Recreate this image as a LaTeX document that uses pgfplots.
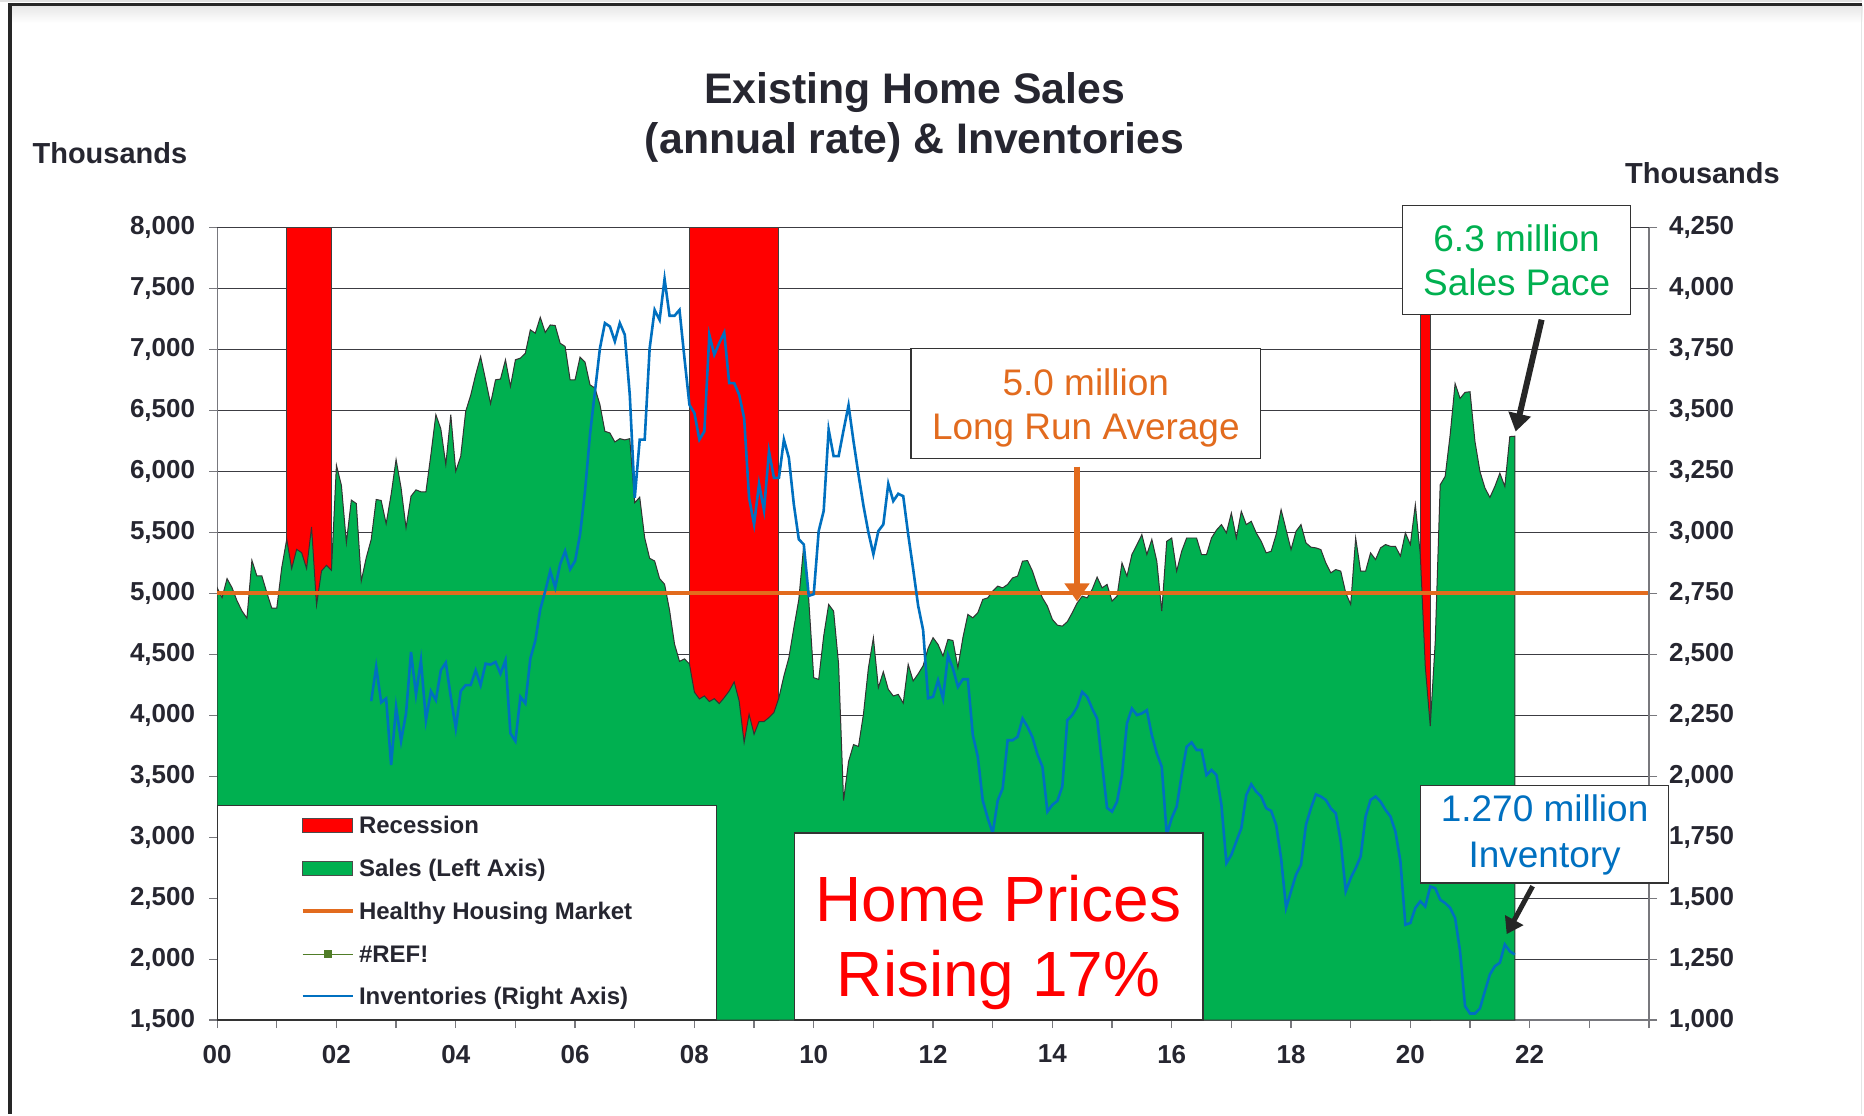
\documentclass[border=0pt]{standalone}
\usepackage{pgfplots}
\pgfplotsset{compat=1.18}
\usepackage{pgfplotstable}
\usepackage{fontspec}
\setmainfont{Liberation Sans}
\usetikzlibrary{arrows.meta}
\definecolor{xlgreen}{RGB}{0,176,80}
\definecolor{xlred}{RGB}{255,0,0}
\definecolor{xlorange}{RGB}{226,107,30}
\definecolor{xlblue}{RGB}{0,112,192}
\definecolor{txt}{RGB}{38,38,48}
\definecolor{gridc}{RGB}{60,60,66}
\definecolor{axc}{RGB}{120,120,125}
\definecolor{refgreen}{RGB}{80,125,40}

\pgfplotstableread[row sep=\\]{s\\
5048\\4966\\5122\\5048\\4940\\4857\\4797\\5272\\5144\\5144\\5007\\4879\\
4879\\5212\\5444\\5204\\5362\\5335\\5204\\5545\\4904\\5185\\5231\\5190\\
6052\\5888\\5417\\5766\\5738\\5103\\5294\\5444\\5771\\5763\\5572\\5812\\
6099\\5867\\5539\\5798\\5850\\5834\\5834\\6139\\6467\\6350\\6058\\6467\\
6003\\6126\\6494\\6625\\6794\\6944\\6753\\6557\\6753\\6759\\6917\\6699\\
6917\\6931\\6971\\7163\\7135\\7266\\7141\\7203\\7198\\7053\\7026\\6753\\
6753\\6939\\6898\\6712\\6685\\6549\\6330\\6317\\6243\\6270\\6260\\6270\\
5744\\5790\\5457\\5288\\5267\\5122\\5076\\4863\\4585\\4443\\4463\\4422\\
4190\\4135\\4159\\4113\\4137\\4096\\4145\\4200\\4274\\4118\\3777\\4009\\
3845\\3949\\3949\\3982\\4023\\4145\\4323\\4473\\4718\\4950\\5400\\4950\\
4309\\4295\\4650\\4910\\4855\\4420\\3300\\3620\\3760\\3745\\4010\\4390\\
4637\\4227\\4358\\4213\\4159\\4172\\4100\\4418\\4282\\4340\\4407\\4550\\
4637\\4582\\4487\\4623\\4614\\4391\\4637\\4828\\4800\\4842\\4951\\4964\\
5019\\5060\\5046\\5074\\5128\\5142\\5265\\5270\\5183\\5060\\4964\\4896\\
4787\\4740\\4732\\4768\\4842\\4923\\4978\\4964\\5033\\5134\\5046\\5074\\
4937\\4978\\5251\\5142\\5320\\5400\\5483\\5320\\5444\\5265\\4855\\5428\\
5455\\5183\\5346\\5455\\5455\\5455\\5319\\5319\\5455\\5520\\5565\\5497\\
5660\\5455\\5674\\5565\\5592\\5497\\5428\\5333\\5346\\5483\\5688\\5524\\
5360\\5510\\5565\\5415\\5380\\5374\\5360\\5250\\5169\\5196\\5183\\5005\\
4910\\5455\\5183\\5183\\5333\\5278\\5374\\5401\\5387\\5387\\5306\\5497\\
5401\\5729\\5319\\4400\\3912\\4600\\5892\\5960\\6300\\6723\\6600\\6650\\
6655\\6246\\6000\\5865\\5788\\5878\\5987\\5878\\6287\\6290\\
}\sales

\pgfplotstableread[row sep=\\]{v\\
2308\\2449\\2303\\2319\\2046\\
2285\\2144\\2258\\2510\\2335\\2476\\2230\\2349\\2312\\2435\\2466\\2326\\
2196\\2349\\2374\\2374\\2435\\2374\\2462\\2458\\2469\\2421\\2476\\2176\\
2144\\2326\\2299\\2483\\2556\\2685\\2760\\2842\\2774\\2870\\2924\\2849\\
2883\\2992\\3170\\3402\\3579\\3756\\3859\\3845\\3784\\3859\\3811\\3565\\
3142\\3381\\3381\\3756\\3913\\3872\\4040\\3889\\3889\\3913\\3715\\3524\\
3490\\3381\\3415\\3811\\3729\\3777\\3820\\3613\\3613\\3565\\3470\\3142\\
3033\\3200\\3091\\3333\\3224\\3224\\3381\\3306\\3115\\2972\\2951\\2740\\
2747\\3006\\3088\\3422\\3313\\3313\\3420\\3522\\3374\\3238\\3110\\3000\\
2911\\3006\\3033\\3200\\3129\\3159\\3149\\2992\\2850\\2700\\2600\\2320\\
2326\\2394\\2319\\2496\\2442\\2367\\2398\\2398\\2169\\2080\\1900\\1828\\
1767\\1900\\1950\\2148\\2148\\2162\\2237\\2203\\2160\\2090\\2039\\1855\\
1883\\1899\\1958\\2230\\2251\\2285\\2346\\2326\\2278\\2237\\2050\\1870\\
1855\\1896\\2005\\2217\\2278\\2251\\2258\\2271\\2169\\2094\\2039\\1760\\
1828\\1876\\2005\\2121\\2139\\2108\\2108\\2005\\2026\\2005\\1883\\1644\\
1678\\1733\\1787\\1923\\1967\\1937\\1917\\1869\\1858\\1801\\1664\\1460\\
1528\\1596\\1637\\1801\\1869\\1926\\1917\\1903\\1869\\1848\\1733\\1528\\
1582\\1623\\1671\\1835\\1903\\1917\\1896\\1862\\1835\\1773\\1651\\1391\\
1398\\1460\\1487\\1466\\1548\\1541\\1494\\1480\\1460\\1419\\1282\\1057\\
1027\\1027\\1048\\1119\\1187\\1221\\1235\\1310\\1282\\1269\\
}\inv

\pgfplotsset{
  common/.style={
    at={(108.65pt,47pt)}, anchor=south west,
    width=716.6pt, height=396.5pt, scale only axis,
    xmin=0, xmax=24,
    axis line style={-, axc, line width=0.6pt},
    tick align=outside, major tick length=4pt,
    tick style={axc, line width=0.6pt},
    tick label style={font=\fontsize{13}{13}\selectfont\bfseries, text=txt},
    /pgf/number format/1000 sep={,},
    /pgf/number format/assume math mode=true,
  }
}

\begin{document}
\begin{tikzpicture}[x=1pt,y=1pt]
\fill[white] (0,0) rectangle (932,557.5);
\fill[black!12] (0,556.5) rectangle (932,557.5);
\shade[top color=black!10, bottom color=white] (5,555) rectangle (932,546);
\draw[black!10, line width=0.6pt] (931.5,0) -- (931.5,555);
\draw[line width=1.7pt, black!85] (5,0) -- (5,555.25) -- (932,555.25);

% titles
\node[anchor=base, text=txt, font=\fontsize{21.4}{21.4}\selectfont\bfseries] at (457.75,505.5) {Existing Home Sales};
\node[anchor=base, text=txt, font=\fontsize{21.4}{21.4}\selectfont\bfseries] at (457.75,480.5) {(annual rate) \& Inventories};
\node[anchor=base, text=txt, font=\fontsize{14.5}{14.5}\selectfont\bfseries] at (55,475.8) {Thousands};
\node[anchor=base, text=txt, font=\fontsize{14.5}{14.5}\selectfont\bfseries] at (852,465.8) {Thousands};

\begin{axis}[common,
  ymin=1500, ymax=8000,
  axis x line*=bottom, axis y line*=left,
  xtick={0,...,24},
  xticklabels={00,,02,,04,,06,,08,,10,,12,,14,,16,,18,,20,,22,,},
  ytick={1500,2000,...,8000},
  ymajorgrids, grid style={gridc, line width=0.5pt},
  yticklabel style={xshift=-3.5pt},
  xticklabel style={yshift=-5pt},
]
\addplot[fill=xlred, draw=black!75, line width=0.5pt] coordinates {(1.167,1500) (1.167,8000) (1.917,8000) (1.917,1500) (1.167,1500)};
\addplot[fill=xlred, draw=black!75, line width=0.5pt] coordinates {(7.917,1500) (7.917,8000) (9.417,8000) (9.417,1500) (7.917,1500)};
\addplot[fill=xlred, draw=black!75, line width=0.5pt] coordinates {(20.167,1500) (20.167,8000) (20.333,8000) (20.333,1500) (20.167,1500)};
\addplot[fill=xlgreen, draw=black!80, line width=0.5pt] table[x expr=\coordindex/12, y index=0] {\sales} \closedcycle;
\addplot[xlorange, line width=2pt] coordinates {(0,5000) (24,5000)};
\end{axis}

\begin{axis}[common,
  ymin=1000, ymax=4250,
  axis x line=none, axis y line*=right,
  ytick={1000,1250,...,4250},
  yticklabel style={xshift=2.5pt},
]
\addplot[xlblue, line width=1.3pt] table[x expr=(\coordindex+31)/12, y index=0] {\inv};
\end{axis}

% legend
\draw[black!80, fill=white, line width=0.6pt] (108.8,47) rectangle (358.5,154.5);
\draw[black!70, fill=xlred, line width=0.5pt] (151.5,141) rectangle (176.5,148);
\draw[black!70, fill=xlgreen, line width=0.5pt] (151.5,119.5) rectangle (176.5,126.5);
\draw[xlorange, line width=2pt] (151.5,101.5) -- (176.5,101.5);
\draw[refgreen, line width=0.6pt] (151.5,80) -- (176.5,80);
\fill[refgreen] (162,78) rectangle (166,82);
\draw[xlblue, line width=1.3pt] (151.5,59) -- (176.5,59);
\begin{scope}[every node/.style={anchor=base west, text=txt, font=\fontsize{12}{12}\selectfont\bfseries, inner sep=0pt}]
\node at (179.5,140.2) {Recession};
\node at (179.5,118.7) {Sales (Left Axis)};
\node at (179.5,97.2) {Healthy Housing Market};
\node at (179.5,75.7) {\#REF!};
\node at (179.5,54.7) {Inventories (Right Axis)};
\end{scope}

% annotation: long run average
\draw[black!80, fill=white, line width=0.75pt] (456,328) rectangle (630.75,383);
\node[anchor=base, text=xlorange, font=\fontsize{18.5}{18.5}\selectfont] at (543.4,359.5) {5.0 million};
\node[anchor=base, text=xlorange, font=\fontsize{18.5}{18.5}\selectfont] at (543.4,337.5) {Long Run Average};
\draw[xlorange, line width=3pt, -{Triangle[width=12pt,length=9pt]}] (539,324) -- (539,256.5);

% annotation: sales pace
\draw[black!80, fill=white, line width=0.75pt] (702,400) rectangle (816,454.75);
\node[anchor=base, text=xlgreen, font=\fontsize{18.5}{18.5}\selectfont] at (759,431.5) {6.3 million};
\node[anchor=base, text=xlgreen, font=\fontsize{18.5}{18.5}\selectfont] at (759,409.5) {Sales Pace};
\draw[black!85, line width=3pt, -{Triangle[width=11pt,length=9pt]}] (771.5,397.5) -- (758.5,341.5);

% annotation: inventory
\draw[black!80, fill=white, line width=0.75pt] (711,115.5) rectangle (835,164.5);
\node[anchor=base, text=xlblue, font=\fontsize{18.5}{18.5}\selectfont] at (773,146.5) {1.270 million};
\node[anchor=base, text=xlblue, font=\fontsize{18.5}{18.5}\selectfont] at (773,123.5) {Inventory};
\draw[black!85, line width=2.5pt, -{Triangle[width=10pt,length=8pt]}] (767,114) -- (754,90);

% annotation: home prices
\draw[black!80, fill=white, line width=0.75pt] (397.5,47) rectangle (602,140.5);
\node[anchor=base, text=xlred, font=\fontsize{32}{32}\selectfont] at (499.75,96.5) {Home Prices};
\node[anchor=base, text=xlred, font=\fontsize{32}{32}\selectfont] at (499.75,59) {Rising 17\%};
\end{tikzpicture}
\end{document}
